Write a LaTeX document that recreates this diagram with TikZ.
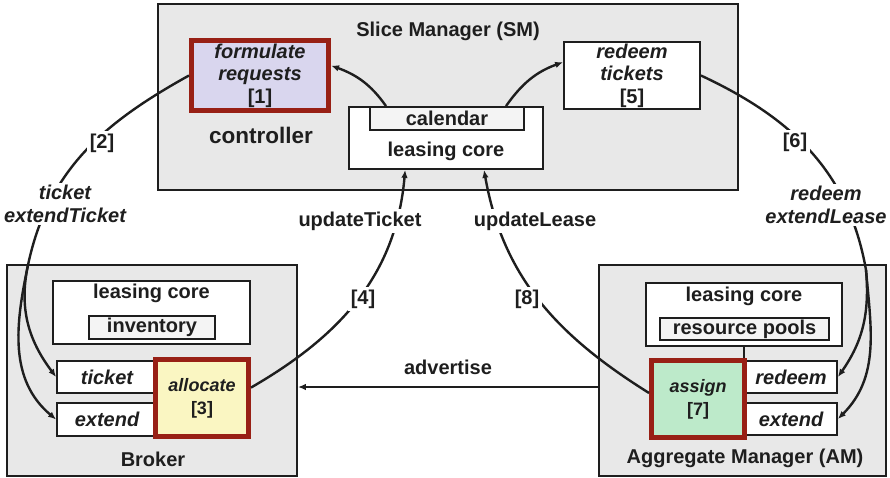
\documentclass[tikz,border=0pt]{standalone}
\usepackage{fontspec}
\setmainfont{Liberation Sans}
\usetikzlibrary{arrows.meta}

\definecolor{panelgray}{HTML}{E8E8E8}
\definecolor{subgray}{HTML}{F4F4F4}
\definecolor{redline}{HTML}{982015}
\definecolor{lavender}{HTML}{D9D6EE}
\definecolor{paleyellow}{HTML}{FAF6C2}
\definecolor{palegreen}{HTML}{BDEACA}
\definecolor{ink}{HTML}{1E1E1E}
\newcommand{\diagfont}{\fontsize{20}{22.5}\selectfont}
\newcommand{\taskfont}{\fontsize{18}{23}\selectfont}

\tikzset{
  box/.style={draw=ink, line width=1.8pt, fill=white, inner sep=0pt, text=ink},
  panel/.style={box, fill=panelgray},
  subbox/.style={box, fill=subgray, font=\diagfont\bfseries},
  call/.style={box, font=\diagfont\bfseries\itshape},
  task/.style={draw=redline, line width=5pt, inner sep=0pt, align=center, text=ink, font=\diagfont\bfseries},
  txt/.style={text=ink, font=\diagfont\bfseries, inner sep=0pt},
  tag/.style={text=ink, font=\diagfont\bfseries, fill=white, inner sep=2.5pt, align=center},
  line/.style={draw=ink, line width=2.4pt},
  flow/.style={line, -{Latex[length=8pt,width=6.5pt]}},
}

\begin{document}
\begin{tikzpicture}[x=1pt,y=1pt]
\useasboundingbox (0,0) rectangle (890,-478);

% slice manager
\node[panel, minimum width=580, minimum height=186] (sm) at (448,-97) {};
\node[txt] (smname) at (448,-31) {Slice Manager (SM)};
\node[task, fill=lavender, minimum width=137, minimum height=70] (fr) at (260,-75.5) {\textit{formulate}\\\textit{requests}\\{[1]}};
\node[txt, font=\fontsize{22.5}{25}\selectfont\bfseries] (ctrl) at (261,-135) {controller};
\node[box, minimum width=194, minimum height=62] (slc) at (446,-138) {};
\node[subbox, minimum width=154, minimum height=23] (cal) at (447,-118.5) {calendar};
\node[txt] (slct) at (446,-151) {leasing core};
\node[box, align=center, font=\diagfont\bfseries, minimum width=136, minimum height=67] (rt) at (632,-75.5) {\textit{redeem}\\\textit{tickets}\\{[5]}};

% broker
\node[panel, minimum width=290, minimum height=211] (br) at (152,-370.5) {};
\node[txt] (brname) at (153,-459) {Broker};
\node[box, minimum width=197, minimum height=63] (blc) at (151.5,-312.5) {};
\node[txt] (blct) at (151.5,-293) {leasing core};
\node[subbox, minimum width=126, minimum height=23] (inv) at (152,-327.5) {inventory};
\node[call, minimum width=100, minimum height=32] (tk) at (107,-377) {ticket};
\node[call, minimum width=100, minimum height=33] (bext) at (107,-419.5) {extend};
\node[task, fill=paleyellow, font=\taskfont\bfseries, minimum width=93, minimum height=77] (alloc) at (202,-398) {\textit{allocate}\\{[3]}};

% aggregate manager
\node[panel, minimum width=287, minimum height=211] (am) at (742.5,-370.5) {};
\node[txt] (amname) at (745,-458) {Aggregate Manager (AM)};
\node[box, minimum width=196, minimum height=63] (alc) at (744,-314.5) {};
\node[txt] (alct) at (744,-296) {leasing core};
\node[subbox, minimum width=169, minimum height=22] (pools) at (744.5,-329) {resource pools};
\node[call, minimum width=92, minimum height=32] (rdm) at (791,-377) {redeem};
\node[call, minimum width=92, minimum height=32] (aext) at (791,-419) {extend};
\node[task, fill=palegreen, font=\taskfont\bfseries, minimum width=93, minimum height=77] (asg) at (698,-399) {\textit{assign}\\{[7]}};
\draw[draw=ink, line width=1.8pt] (alc.south) -- (alc.south |- asg.north);

% [2] ticket, extendTicket
\coordinate (split2) at (28,-265);
\draw[line] (fr.west) to[out=209,in=78] (split2);
\draw[flow] (split2) to[out=258,in=127] (tk.west);
\draw[flow] (split2) to[out=258,in=140] (bext.west);

% [6] redeem, extendLease
\coordinate (split6) at (866,-270);
\draw[line] (rt.east) to[out=335,in=100] (split6);
\draw[flow] (split6) to[out=275,in=55] (rdm.east);
\draw[flow] (split6) to[out=275,in=45] (aext.east);

\draw[flow] (slc.152) to[out=125,in=-20] (fr.8);
\draw[flow] (slc.28) to[out=55,in=200] (rt.169);
\draw[flow] (alloc.12) to[out=30,in=-95] (slc.218);
\draw[flow] (asg.173) to[out=148,in=-80] (slc.320);
\draw[flow, line width=1.8pt] ([yshift=-16.5pt]am.west) -- ([yshift=-16.5pt]br.east);

\node[tag] (t2) at (102,-143) {[2]};
\node[tag, font=\diagfont\bfseries\itshape] (t2m) at (65,-204) {ticket\\extendTicket};
\node[tag] (t6) at (795,-142) {[6]};
\node[tag, font=\diagfont\bfseries\itshape] (t6m) at (826,-205) {redeem\\extendLease};
\node[tag] (t4) at (363,-299) {[4]};
\node[tag] (t8) at (527,-299) {[8]};
\node[tag] (upt) at (360,-221) {updateTicket};
\node[tag] (upl) at (535,-221) {updateLease};
\node[txt] (adv) at (448,-367) {advertise};
\end{tikzpicture}
\end{document}
